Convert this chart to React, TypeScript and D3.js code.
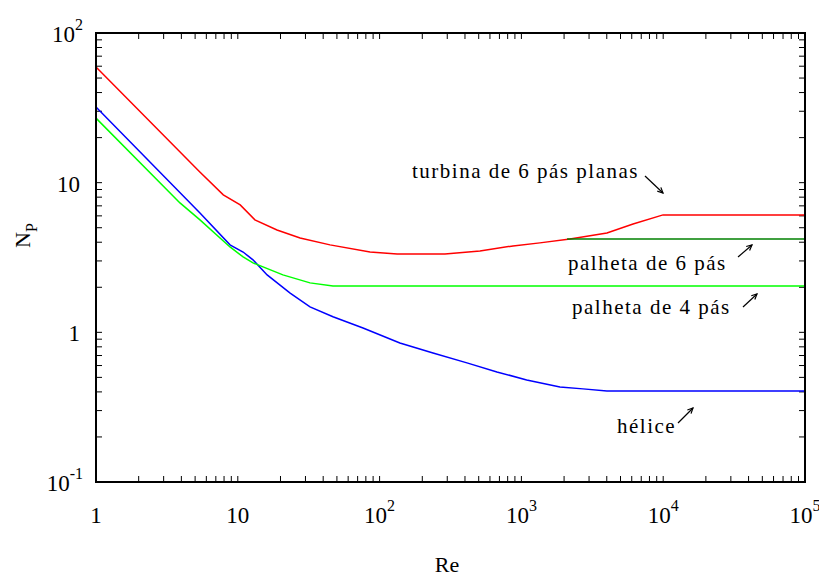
import React from 'react';
import * as d3 from 'd3';

// Np vs Re curves for different impellers
const reTurbina = [1, 5.4, 7.9, 10.4, 13.2, 18.9, 27.5, 44.7, 85.6, 133, 289, 510, 873, 1350, 2200, 4010, 6130, 9970, 100000];
const npTurbina = [59.3, 11.8, 8.3, 7.1, 5.64, 4.83, 4.27, 3.84, 3.44, 3.34, 3.34, 3.5, 3.78, 3.96, 4.21, 4.61, 5.3, 6.09, 6.09];

const rePalheta6 = [2100, 100000];
const npPalheta6 = [4.21, 4.21];

const rePalheta4 = [1, 3.91, 5.41, 8.81, 10.9, 12.8, 20.8, 32.3, 46.9, 100000];
const npPalheta4 = [27.0, 7.32, 5.64, 3.72, 3.19, 2.91, 2.42, 2.14, 2.04, 2.04];

const reHelice = [1, 5.41, 8.81, 10.9, 12.8, 16.1, 23.4, 32.3, 46.9, 76.4, 139, 238, 413, 672, 1090, 1870, 2720, 4010, 100000];
const npHelice = [32.0, 6.28, 3.84, 3.44, 3.05, 2.42, 1.83, 1.48, 1.27, 1.07, 0.849, 0.728, 0.625, 0.544, 0.481, 0.431, 0.419, 0.406, 0.406];

const xTickLabels = [
  { v: 1, base: '1', exp: '' },
  { v: 10, base: '10', exp: '' },
  { v: 100, base: '10', exp: '2' },
  { v: 1000, base: '10', exp: '3' },
  { v: 10000, base: '10', exp: '4' },
  { v: 100000, base: '10', exp: '5' },
];
const yTickLabels = [
  { v: 100, base: '10', exp: '2' },
  { v: 10, base: '10', exp: '' },
  { v: 1, base: '1', exp: '' },
  { v: 0.1, base: '10', exp: '-1' },
];

const labels = [
  { text: 'turbina de 6 pás planas', x: 412, y: 178, ax: [645, 176, 663, 193] },
  { text: 'palheta de 6 pás', x: 568, y: 270, ax: [738, 257, 752, 245] },
  { text: 'palheta de 4 pás', x: 572, y: 314, ax: [743, 307, 757, 294] },
  { text: 'hélice', x: 617, y: 433, ax: [678, 423, 693, 408] },
];

const W = 819;
const H = 577;
const left = 96, right = 805, top = 33, bottom = 482;
const font = '"Liberation Serif", "Times New Roman", serif';

export default function App() {
  const x = d3.scaleLog().domain([1, 1e5]).range([left, right]);
  const y = d3.scaleLog().domain([0.1, 100]).range([bottom, top]);

  const line = d3.line<[number, number]>()
    .x(d => x(d[0]))
    .y(d => y(d[1]));

  const series = [
    { re: reHelice, np: npHelice, color: '#0000ff' },
    { re: rePalheta4, np: npPalheta4, color: '#00ff00' },
    { re: reTurbina, np: npTurbina, color: '#ff0000' },
    { re: rePalheta6, np: npPalheta6, color: '#008000' },
  ];

  const tl = 6;
  const xTicks = x.ticks();
  const yTicks = y.ticks();

  const arrowHead = (x1: number, y1: number, x2: number, y2: number) => {
    const a = Math.atan2(y2 - y1, x2 - x1);
    const s = 6;
    const p1 = [x2 - s * Math.cos(a - 0.45), y2 - s * Math.sin(a - 0.45)];
    const p2 = [x2 - s * Math.cos(a + 0.45), y2 - s * Math.sin(a + 0.45)];
    return `M${p1[0]},${p1[1]}L${x2},${y2}L${p2[0]},${p2[1]}`;
  };

  return (
    <svg width={W} height={H} style={{ position: 'absolute', left: 0, top: 0, background: '#fff' }}
      fontFamily={font}>
      {/* ticks on all four sides, pointing inwards */}
      <g stroke="#000" strokeWidth={1}>
        {xTicks.map((t, i) => (
          <g key={'xt' + i}>
            <line x1={x(t)} x2={x(t)} y1={bottom} y2={bottom - tl} />
            <line x1={x(t)} x2={x(t)} y1={top} y2={top + tl} />
          </g>
        ))}
        {yTicks.map((t, i) => (
          <g key={'yt' + i}>
            <line x1={left} x2={left + tl} y1={y(t)} y2={y(t)} />
            <line x1={right} x2={right - tl} y1={y(t)} y2={y(t)} />
          </g>
        ))}
      </g>

      {series.map((s, i) => (
        <path key={i} d={line(s.re.map((r, j) => [r, s.np[j]] as [number, number])) || ''}
          fill="none" stroke={s.color} strokeWidth={1.5} />
      ))}

      <rect x={left} y={top} width={right - left} height={bottom - top}
        fill="none" stroke="#000" strokeWidth={2} />

      {/* tick labels */}
      <g fill="#000" fontSize={23}>
        {xTickLabels.map((t, i) => (
          <text key={'xl' + i} x={x(t.v)} y={523} textAnchor="middle">
            {t.base}
            {t.exp && <tspan fontSize={16} dy={-12}>{t.exp}</tspan>}
          </text>
        ))}
        {yTickLabels.map((t, i) => (
          <text key={'yl' + i} x={t.exp ? 83 : 80} y={y(t.v) + 9} textAnchor="end">
            {t.base}
            {t.exp && <tspan fontSize={16} dy={-12}>{t.exp}</tspan>}
          </text>
        ))}
      </g>

      {/* axis titles */}
      <text x={447} y={572} textAnchor="middle" fontSize={22}>Re</text>
      <text transform="translate(30,248) rotate(-90)" fontSize={22}>
        N<tspan fontSize={16} dy={7}>P</tspan>
      </text>

      {/* annotations */}
      {labels.map((l, i) => (
        <g key={'lb' + i}>
          <text x={l.x} y={l.y} fontSize={21} letterSpacing={1.5}>{l.text}</text>
          <line x1={l.ax[0]} y1={l.ax[1]} x2={l.ax[2]} y2={l.ax[3]} stroke="#000" strokeWidth={1.2} />
          <path d={arrowHead(l.ax[0], l.ax[1], l.ax[2], l.ax[3])} fill="none" stroke="#000" strokeWidth={1.2} />
        </g>
      ))}
    </svg>
  );
}
